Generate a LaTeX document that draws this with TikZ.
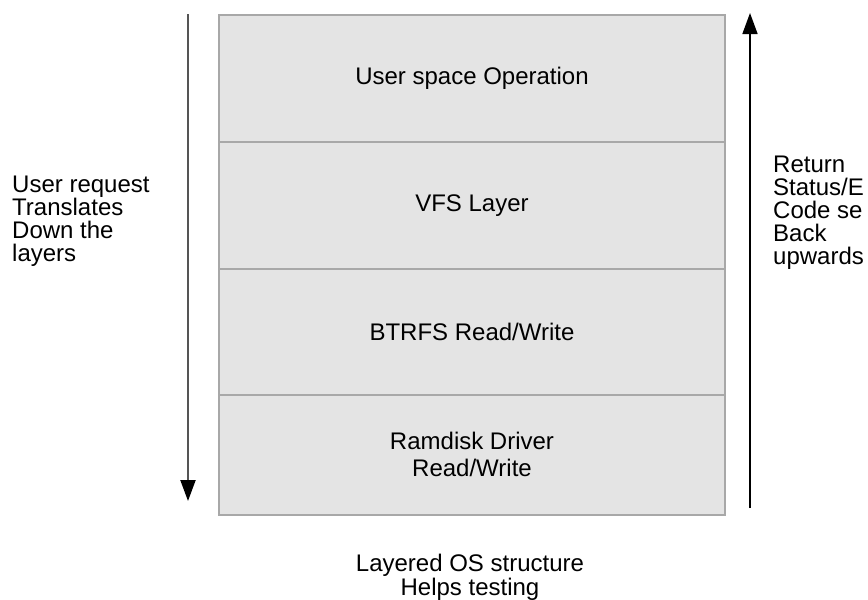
\documentclass[tikz,border=0pt]{standalone}
\usepackage{fontspec}
\setmainfont{Liberation Sans}
\usetikzlibrary{arrows.meta}
\definecolor{layerfill}{HTML}{E4E4E4}
\definecolor{layeredge}{HTML}{A8A8A8}
\definecolor{downline}{HTML}{555555}
\tikzset{
  layer/.style={draw=layeredge, line width=1.5pt, fill=layerfill,
    minimum width=506pt, inner sep=0pt, align=center, anchor=north,
    font=\fontsize{24}{27}\selectfont},
  sidetext/.style={align=left, inner sep=0pt, anchor=north west,
    font=\fontsize{24}{23}\selectfont},
  flow/.style={-{Triangle[width=15pt,length=21pt,color=black]}},
}
\begin{document}
\begin{tikzpicture}[x=1pt,y=-1pt]
  \useasboundingbox (0,0) rectangle (868,600);
  \fill[white] (0,0) rectangle (868,600);

  % the four stacked layers
  \node[layer, minimum height=127pt] (user) at (472,14) {User space Operation};
  \node[layer, minimum height=127pt] (vfs) at (472,141) {VFS Layer};
  \node[layer, minimum height=126pt] (btrfs) at (472,268) {BTRFS Read/Write};
  \node[layer, minimum height=120pt] (ramdisk) at (472,394) {Ramdisk Driver\\Read/Write};

  % request going down, status coming back up
  \coordinate (downstart) at (188,14);
  \coordinate (downend) at (188,501);
  \coordinate (upstart) at (750,508);
  \coordinate (upend) at (750,13);
  \draw[flow, draw=downline, line width=2pt] (downstart) -- (downend);
  \draw[flow, draw=black, line width=1.5pt] (upstart) -- (upend);

  \node[sidetext] (request) at (12,176) {User request\\Translates\\Down the\\layers};
  \node[sidetext] (status) at (773,156) {Return\\Status/E\\Code se\\Back\\upwards};

  \node[align=center, inner sep=0pt, font=\fontsize{24}{24}\selectfont] (caption) at (470,577)
    {Layered OS structure\\Helps testing};
\end{tikzpicture}
\end{document}
